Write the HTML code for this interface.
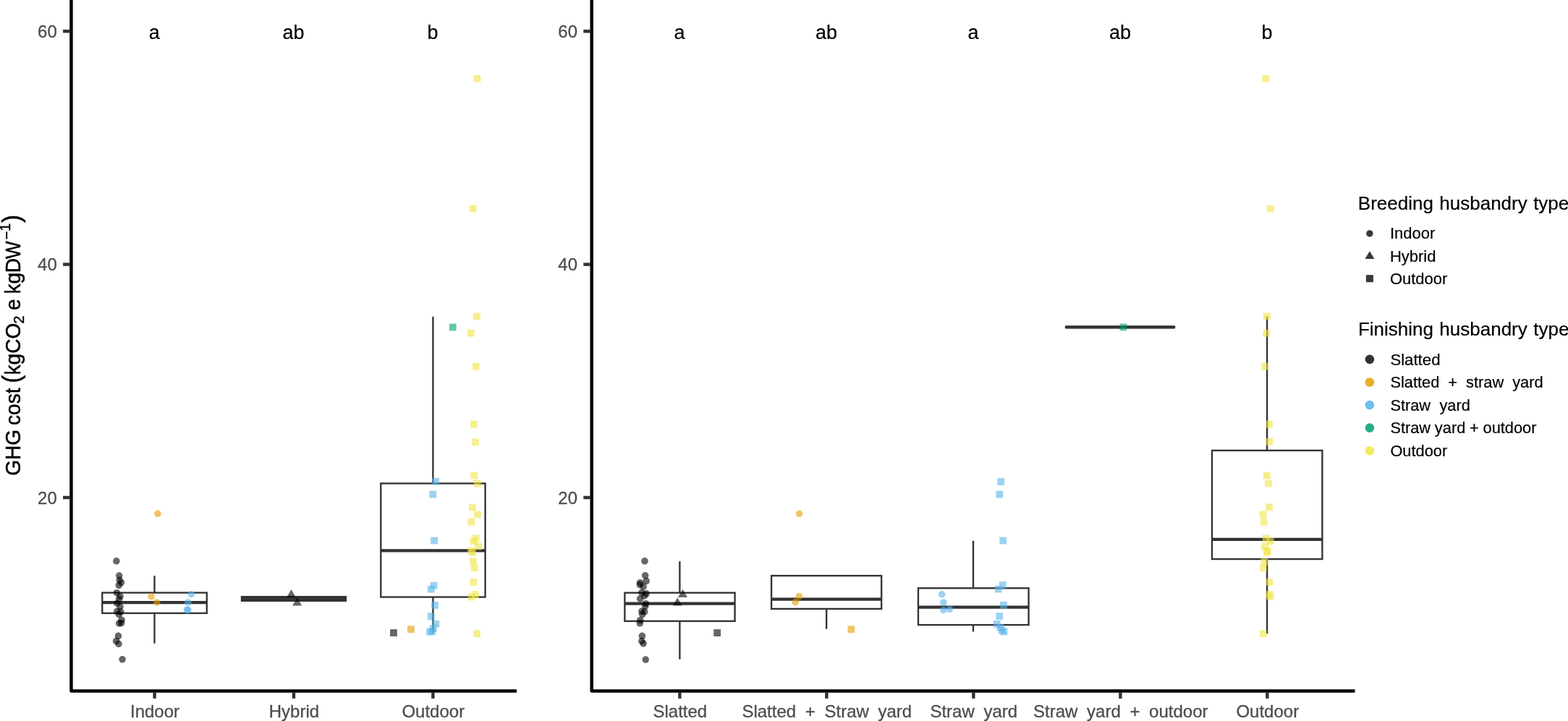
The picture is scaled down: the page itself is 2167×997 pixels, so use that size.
<!DOCTYPE html>
<html lang="en">
<head>
<meta charset="utf-8">
<title>GHG cost by husbandry type</title>
<style>
html,body{margin:0;padding:0;background:#fff;}
body{width:2167px;height:997px;overflow:hidden;}
svg{display:block;}
text{font-family:"Liberation Sans",Arial,Helvetica,sans-serif;white-space:pre;}
</style>
</head>
<body>
<svg width="2167" height="997" viewBox="0 0 2167 997">
<rect x="0" y="0" width="2167" height="997" fill="#ffffff"/>

<g id="left-boxes">
<line x1="213.5" y1="796.1" x2="213.5" y2="819.6" stroke="#333333" stroke-width="2.35"/>
<line x1="213.5" y1="847.9" x2="213.5" y2="889.7" stroke="#333333" stroke-width="2.35"/>
<rect x="141.3" y="819.6" width="144.5" height="28.3" fill="#fff" stroke="#333333" stroke-width="2.35" stroke-linejoin="miter"/>
<line x1="141.3" y1="833.1" x2="285.8" y2="833.1" stroke="#333333" stroke-width="4.3"/>
<rect x="334.0" y="825.2" width="144.0" height="5.6" fill="#fff" stroke="#333333" stroke-width="2.35" stroke-linejoin="miter"/>
<line x1="334.0" y1="828.0" x2="478.0" y2="828.0" stroke="#333333" stroke-width="4.3"/>
<line x1="598.4" y1="437.8" x2="598.4" y2="668.5" stroke="#333333" stroke-width="2.35"/>
<line x1="598.4" y1="825.6" x2="598.4" y2="875.0" stroke="#333333" stroke-width="2.35"/>
<rect x="526.3" y="668.5" width="144.3" height="157.1" fill="#fff" stroke="#333333" stroke-width="2.35" stroke-linejoin="miter"/>
<line x1="526.3" y1="761.3" x2="670.6" y2="761.3" stroke="#333333" stroke-width="4.3"/>
</g>
<g id="right-boxes">
<line x1="939.4" y1="776.2" x2="939.4" y2="819.7" stroke="#333333" stroke-width="2.35"/>
<line x1="939.4" y1="858.9" x2="939.4" y2="911.7" stroke="#333333" stroke-width="2.35"/>
<rect x="863.4" y="819.7" width="152.2" height="39.2" fill="#fff" stroke="#333333" stroke-width="2.35" stroke-linejoin="miter"/>
<line x1="863.4" y1="834.7" x2="1015.6" y2="834.7" stroke="#333333" stroke-width="4.3"/>
<line x1="1142.2" y1="841.9" x2="1142.2" y2="869.8" stroke="#333333" stroke-width="2.35"/>
<rect x="1066.1" y="796.1" width="152.1" height="45.8" fill="#fff" stroke="#333333" stroke-width="2.35" stroke-linejoin="miter"/>
<line x1="1066.1" y1="828.6" x2="1218.2" y2="828.6" stroke="#333333" stroke-width="4.3"/>
<line x1="1345.0" y1="747.8" x2="1345.0" y2="813.3" stroke="#333333" stroke-width="2.35"/>
<line x1="1345.0" y1="864.1" x2="1345.0" y2="873.5" stroke="#333333" stroke-width="2.35"/>
<rect x="1269.0" y="813.3" width="152.6" height="50.8" fill="#fff" stroke="#333333" stroke-width="2.35" stroke-linejoin="miter"/>
<line x1="1269.0" y1="839.7" x2="1421.6" y2="839.7" stroke="#333333" stroke-width="4.3"/>
<rect x="1473.0" y="451.8" width="150.1" height="1.2" fill="#fff" stroke="#333333" stroke-width="2.35" stroke-linejoin="miter"/>
<line x1="1473.0" y1="452.4" x2="1623.1" y2="452.4" stroke="#333333" stroke-width="4.3"/>
<line x1="1751.1" y1="437.8" x2="1751.1" y2="622.9" stroke="#333333" stroke-width="2.35"/>
<line x1="1751.1" y1="773.1" x2="1751.1" y2="876.3" stroke="#333333" stroke-width="2.35"/>
<rect x="1675.0" y="622.9" width="152.4" height="150.2" fill="#fff" stroke="#333333" stroke-width="2.35" stroke-linejoin="miter"/>
<line x1="1675.0" y1="745.9" x2="1827.4" y2="745.9" stroke="#333333" stroke-width="4.3"/>
</g>
<g id="left-points">
<circle cx="160.9" cy="775.9" r="4.8" fill="#000000" fill-opacity="0.6"/>
<circle cx="164.7" cy="796.1" r="4.8" fill="#000000" fill-opacity="0.6"/>
<circle cx="165.2" cy="802.3" r="4.8" fill="#000000" fill-opacity="0.6"/>
<circle cx="167.4" cy="805.7" r="4.8" fill="#000000" fill-opacity="0.6"/>
<circle cx="164.3" cy="809.4" r="4.8" fill="#000000" fill-opacity="0.6"/>
<circle cx="161.3" cy="819.7" r="4.8" fill="#000000" fill-opacity="0.6"/>
<circle cx="166.0" cy="824.5" r="4.8" fill="#000000" fill-opacity="0.6"/>
<circle cx="164.7" cy="828.2" r="4.8" fill="#000000" fill-opacity="0.6"/>
<circle cx="161.8" cy="834.2" r="4.8" fill="#000000" fill-opacity="0.6"/>
<circle cx="166.0" cy="838.8" r="4.8" fill="#000000" fill-opacity="0.6"/>
<circle cx="161.8" cy="845.3" r="4.8" fill="#000000" fill-opacity="0.6"/>
<circle cx="166.9" cy="846.1" r="4.8" fill="#000000" fill-opacity="0.6"/>
<circle cx="164.3" cy="849.5" r="4.8" fill="#000000" fill-opacity="0.6"/>
<circle cx="168.1" cy="857.2" r="4.8" fill="#000000" fill-opacity="0.6"/>
<circle cx="164.7" cy="862.0" r="4.8" fill="#000000" fill-opacity="0.6"/>
<circle cx="167.7" cy="861.5" r="4.8" fill="#000000" fill-opacity="0.6"/>
<circle cx="163.5" cy="879.4" r="4.8" fill="#000000" fill-opacity="0.6"/>
<circle cx="160.6" cy="886.5" r="4.8" fill="#000000" fill-opacity="0.6"/>
<circle cx="164.0" cy="890.4" r="4.8" fill="#000000" fill-opacity="0.6"/>
<circle cx="169.1" cy="911.8" r="4.8" fill="#000000" fill-opacity="0.6"/>
<circle cx="209.0" cy="824.8" r="4.8" fill="#E69F00" fill-opacity="0.6"/>
<circle cx="216.8" cy="833.0" r="4.8" fill="#E69F00" fill-opacity="0.6"/>
<circle cx="218.0" cy="710.3" r="4.8" fill="#E69F00" fill-opacity="0.6"/>
<circle cx="264.4" cy="821.7" r="4.8" fill="#56B4E9" fill-opacity="0.6"/>
<circle cx="259.8" cy="833.0" r="4.8" fill="#56B4E9" fill-opacity="0.6"/>
<circle cx="258.4" cy="843.0" r="4.8" fill="#56B4E9" fill-opacity="0.6"/>
<circle cx="259.9" cy="843.6" r="4.8" fill="#56B4E9" fill-opacity="0.6"/>
<path d="M402.5 815.0 L409.0 826.2 L396.0 826.2 Z" fill="#000000" fill-opacity="0.6"/>
<path d="M410.7 826.2 L417.2 837.4 L404.2 837.4 Z" fill="#000000" fill-opacity="0.6"/>
<rect x="539.1" y="870.2" width="9.8" height="9.8" fill="#000000" fill-opacity="0.6"/>
<rect x="563.0" y="865.3" width="9.8" height="9.8" fill="#E69F00" fill-opacity="0.6"/>
<rect x="595.2" y="742.7" width="9.8" height="9.8" fill="#56B4E9" fill-opacity="0.6"/>
<rect x="594.8" y="804.7" width="9.8" height="9.8" fill="#56B4E9" fill-opacity="0.6"/>
<rect x="590.9" y="809.8" width="9.8" height="9.8" fill="#56B4E9" fill-opacity="0.6"/>
<rect x="596.2" y="832.0" width="9.8" height="9.8" fill="#56B4E9" fill-opacity="0.6"/>
<rect x="590.9" y="847.4" width="9.8" height="9.8" fill="#56B4E9" fill-opacity="0.6"/>
<rect x="597.4" y="857.8" width="9.8" height="9.8" fill="#56B4E9" fill-opacity="0.6"/>
<rect x="593.7" y="864.1" width="9.8" height="9.8" fill="#56B4E9" fill-opacity="0.6"/>
<rect x="589.2" y="868.8" width="9.8" height="9.8" fill="#56B4E9" fill-opacity="0.6"/>
<rect x="592.3" y="868.3" width="9.8" height="9.8" fill="#56B4E9" fill-opacity="0.6"/>
<rect x="597.1" y="660.9" width="9.8" height="9.8" fill="#56B4E9" fill-opacity="0.6"/>
<rect x="593.3" y="678.7" width="9.8" height="9.8" fill="#56B4E9" fill-opacity="0.6"/>
<rect x="620.9" y="447.6" width="9.8" height="9.8" fill="#009E73" fill-opacity="0.6"/>
<rect x="654.6" y="103.7" width="9.8" height="9.8" fill="#F0E442" fill-opacity="0.6"/>
<rect x="648.7" y="283.5" width="9.8" height="9.8" fill="#F0E442" fill-opacity="0.6"/>
<rect x="654.0" y="432.7" width="9.8" height="9.8" fill="#F0E442" fill-opacity="0.6"/>
<rect x="646.0" y="455.7" width="9.8" height="9.8" fill="#F0E442" fill-opacity="0.6"/>
<rect x="652.8" y="501.9" width="9.8" height="9.8" fill="#F0E442" fill-opacity="0.6"/>
<rect x="649.9" y="581.8" width="9.8" height="9.8" fill="#F0E442" fill-opacity="0.6"/>
<rect x="652.0" y="606.4" width="9.8" height="9.8" fill="#F0E442" fill-opacity="0.6"/>
<rect x="650.3" y="652.6" width="9.8" height="9.8" fill="#F0E442" fill-opacity="0.6"/>
<rect x="654.9" y="663.7" width="9.8" height="9.8" fill="#F0E442" fill-opacity="0.6"/>
<rect x="648.0" y="696.7" width="9.8" height="9.8" fill="#F0E442" fill-opacity="0.6"/>
<rect x="655.0" y="706.6" width="9.8" height="9.8" fill="#F0E442" fill-opacity="0.6"/>
<rect x="646.3" y="716.8" width="9.8" height="9.8" fill="#F0E442" fill-opacity="0.6"/>
<rect x="652.8" y="739.6" width="9.8" height="9.8" fill="#F0E442" fill-opacity="0.6"/>
<rect x="649.4" y="743.5" width="9.8" height="9.8" fill="#F0E442" fill-opacity="0.6"/>
<rect x="656.2" y="750.7" width="9.8" height="9.8" fill="#F0E442" fill-opacity="0.6"/>
<rect x="646.0" y="756.6" width="9.8" height="9.8" fill="#F0E442" fill-opacity="0.6"/>
<rect x="648.0" y="759.2" width="9.8" height="9.8" fill="#F0E442" fill-opacity="0.6"/>
<rect x="649.1" y="771.5" width="9.8" height="9.8" fill="#F0E442" fill-opacity="0.6"/>
<rect x="650.8" y="780.5" width="9.8" height="9.8" fill="#F0E442" fill-opacity="0.6"/>
<rect x="649.4" y="800.1" width="9.8" height="9.8" fill="#F0E442" fill-opacity="0.6"/>
<rect x="652.0" y="817.2" width="9.8" height="9.8" fill="#F0E442" fill-opacity="0.6"/>
<rect x="646.8" y="820.6" width="9.8" height="9.8" fill="#F0E442" fill-opacity="0.6"/>
<rect x="654.2" y="871.4" width="9.8" height="9.8" fill="#F0E442" fill-opacity="0.6"/>
</g>
<g id="right-points">
<circle cx="891.0" cy="775.9" r="4.8" fill="#000000" fill-opacity="0.6"/>
<circle cx="891.7" cy="795.8" r="4.8" fill="#000000" fill-opacity="0.6"/>
<circle cx="893.2" cy="803.5" r="4.8" fill="#000000" fill-opacity="0.6"/>
<circle cx="884.7" cy="805.7" r="4.8" fill="#000000" fill-opacity="0.6"/>
<circle cx="884.3" cy="808.6" r="4.8" fill="#000000" fill-opacity="0.6"/>
<circle cx="889.1" cy="811.2" r="4.8" fill="#000000" fill-opacity="0.6"/>
<circle cx="886.9" cy="819.3" r="4.8" fill="#000000" fill-opacity="0.6"/>
<circle cx="893.2" cy="820.9" r="4.8" fill="#000000" fill-opacity="0.6"/>
<circle cx="890.8" cy="823.9" r="4.8" fill="#000000" fill-opacity="0.6"/>
<circle cx="884.7" cy="827.9" r="4.8" fill="#000000" fill-opacity="0.6"/>
<circle cx="892.5" cy="834.7" r="4.8" fill="#000000" fill-opacity="0.6"/>
<circle cx="891.7" cy="838.4" r="4.8" fill="#000000" fill-opacity="0.6"/>
<circle cx="886.9" cy="845.3" r="4.8" fill="#000000" fill-opacity="0.6"/>
<circle cx="890.8" cy="845.8" r="4.8" fill="#000000" fill-opacity="0.6"/>
<circle cx="887.7" cy="849.5" r="4.8" fill="#000000" fill-opacity="0.6"/>
<circle cx="884.8" cy="857.7" r="4.8" fill="#000000" fill-opacity="0.6"/>
<circle cx="884.3" cy="861.8" r="4.8" fill="#000000" fill-opacity="0.6"/>
<circle cx="887.4" cy="879.4" r="4.8" fill="#000000" fill-opacity="0.6"/>
<circle cx="886.9" cy="886.5" r="4.8" fill="#000000" fill-opacity="0.6"/>
<circle cx="889.1" cy="889.9" r="4.8" fill="#000000" fill-opacity="0.6"/>
<circle cx="892.3" cy="912.1" r="4.8" fill="#000000" fill-opacity="0.6"/>
<path d="M943.5 814.7 L950.0 825.9 L937.0 825.9 Z" fill="#000000" fill-opacity="0.6"/>
<path d="M936.2 826.3 L942.7 837.5 L929.7 837.5 Z" fill="#000000" fill-opacity="0.6"/>
<rect x="986.3" y="870.2" width="9.8" height="9.8" fill="#000000" fill-opacity="0.6"/>
<circle cx="1104.6" cy="710.3" r="4.8" fill="#E69F00" fill-opacity="0.6"/>
<circle cx="1104.4" cy="824.7" r="4.8" fill="#E69F00" fill-opacity="0.6"/>
<circle cx="1099.2" cy="832.5" r="4.8" fill="#E69F00" fill-opacity="0.6"/>
<rect x="1171.5" y="865.4" width="9.8" height="9.8" fill="#E69F00" fill-opacity="0.6"/>
<circle cx="1301.6" cy="821.8" r="4.8" fill="#56B4E9" fill-opacity="0.6"/>
<circle cx="1303.8" cy="833.0" r="4.8" fill="#56B4E9" fill-opacity="0.6"/>
<circle cx="1303.8" cy="843.6" r="4.8" fill="#56B4E9" fill-opacity="0.6"/>
<circle cx="1312.5" cy="842.4" r="4.8" fill="#56B4E9" fill-opacity="0.6"/>
<rect x="1381.4" y="742.7" width="9.8" height="9.8" fill="#56B4E9" fill-opacity="0.6"/>
<rect x="1380.9" y="804.1" width="9.8" height="9.8" fill="#56B4E9" fill-opacity="0.6"/>
<rect x="1374.9" y="809.7" width="9.8" height="9.8" fill="#56B4E9" fill-opacity="0.6"/>
<rect x="1382.1" y="831.9" width="9.8" height="9.8" fill="#56B4E9" fill-opacity="0.6"/>
<rect x="1376.4" y="847.2" width="9.8" height="9.8" fill="#56B4E9" fill-opacity="0.6"/>
<rect x="1372.9" y="858.0" width="9.8" height="9.8" fill="#56B4E9" fill-opacity="0.6"/>
<rect x="1377.5" y="863.1" width="9.8" height="9.8" fill="#56B4E9" fill-opacity="0.6"/>
<rect x="1380.0" y="866.8" width="9.8" height="9.8" fill="#56B4E9" fill-opacity="0.6"/>
<rect x="1382.6" y="868.6" width="9.8" height="9.8" fill="#56B4E9" fill-opacity="0.6"/>
<rect x="1378.3" y="661.2" width="9.8" height="9.8" fill="#56B4E9" fill-opacity="0.6"/>
<rect x="1376.4" y="678.7" width="9.8" height="9.8" fill="#56B4E9" fill-opacity="0.6"/>
<rect x="1547.5" y="447.5" width="9.8" height="9.8" fill="#009E73" fill-opacity="0.6"/>
<rect x="1744.4" y="103.8" width="9.8" height="9.8" fill="#F0E442" fill-opacity="0.6"/>
<rect x="1750.8" y="283.6" width="9.8" height="9.8" fill="#F0E442" fill-opacity="0.6"/>
<rect x="1746.0" y="432.7" width="9.8" height="9.8" fill="#F0E442" fill-opacity="0.6"/>
<rect x="1745.4" y="455.7" width="9.8" height="9.8" fill="#F0E442" fill-opacity="0.6"/>
<rect x="1743.1" y="501.9" width="9.8" height="9.8" fill="#F0E442" fill-opacity="0.6"/>
<rect x="1749.1" y="581.8" width="9.8" height="9.8" fill="#F0E442" fill-opacity="0.6"/>
<rect x="1749.4" y="606.0" width="9.8" height="9.8" fill="#F0E442" fill-opacity="0.6"/>
<rect x="1746.0" y="652.6" width="9.8" height="9.8" fill="#F0E442" fill-opacity="0.6"/>
<rect x="1748.1" y="663.7" width="9.8" height="9.8" fill="#F0E442" fill-opacity="0.6"/>
<rect x="1749.1" y="696.4" width="9.8" height="9.8" fill="#F0E442" fill-opacity="0.6"/>
<rect x="1740.6" y="706.6" width="9.8" height="9.8" fill="#F0E442" fill-opacity="0.6"/>
<rect x="1741.8" y="716.8" width="9.8" height="9.8" fill="#F0E442" fill-opacity="0.6"/>
<rect x="1744.8" y="739.6" width="9.8" height="9.8" fill="#F0E442" fill-opacity="0.6"/>
<rect x="1750.8" y="743.5" width="9.8" height="9.8" fill="#F0E442" fill-opacity="0.6"/>
<rect x="1743.1" y="750.7" width="9.8" height="9.8" fill="#F0E442" fill-opacity="0.6"/>
<rect x="1746.9" y="756.6" width="9.8" height="9.8" fill="#F0E442" fill-opacity="0.6"/>
<rect x="1746.0" y="759.2" width="9.8" height="9.8" fill="#F0E442" fill-opacity="0.6"/>
<rect x="1742.6" y="772.0" width="9.8" height="9.8" fill="#F0E442" fill-opacity="0.6"/>
<rect x="1740.9" y="780.5" width="9.8" height="9.8" fill="#F0E442" fill-opacity="0.6"/>
<rect x="1749.4" y="800.1" width="9.8" height="9.8" fill="#F0E442" fill-opacity="0.6"/>
<rect x="1749.1" y="817.2" width="9.8" height="9.8" fill="#F0E442" fill-opacity="0.6"/>
<rect x="1750.8" y="820.1" width="9.8" height="9.8" fill="#F0E442" fill-opacity="0.6"/>
<rect x="1740.9" y="871.4" width="9.8" height="9.8" fill="#F0E442" fill-opacity="0.6"/>
</g>
<g id="axes">
<path d="M98.45 0 L98.45 955.4 L714.0 955.4" fill="none" stroke="#000" stroke-width="4.5" stroke-linejoin="round"/>
<line x1="87.05" y1="43.2" x2="96.45" y2="43.2" stroke="#333333" stroke-width="4.5"/>
<text transform="translate(78.75,51.80) scale(1,1.02)" font-size="24" fill="#4D4D4D" stroke="#4D4D4D" stroke-width="0.3" text-anchor="end" >60</text>
<line x1="87.05" y1="365.6" x2="96.45" y2="365.6" stroke="#333333" stroke-width="4.5"/>
<text transform="translate(78.75,374.20) scale(1,1.02)" font-size="24" fill="#4D4D4D" stroke="#4D4D4D" stroke-width="0.3" text-anchor="end" >40</text>
<line x1="87.05" y1="688.0" x2="96.45" y2="688.0" stroke="#333333" stroke-width="4.5"/>
<text transform="translate(78.75,696.60) scale(1,1.02)" font-size="24" fill="#4D4D4D" stroke="#4D4D4D" stroke-width="0.3" text-anchor="end" >20</text>
<line x1="213.6" y1="957.4" x2="213.6" y2="965.9" stroke="#333333" stroke-width="4.4"/>
<text x="214.00" y="992.10" font-size="24" fill="#4D4D4D" stroke="#4D4D4D" stroke-width="0.3" text-anchor="middle" >Indoor</text>
<line x1="406.0" y1="957.4" x2="406.0" y2="965.9" stroke="#333333" stroke-width="4.4"/>
<text x="406.40" y="992.10" font-size="24" fill="#4D4D4D" stroke="#4D4D4D" stroke-width="0.3" text-anchor="middle" >Hybrid</text>
<line x1="598.4" y1="957.4" x2="598.4" y2="965.9" stroke="#333333" stroke-width="4.4"/>
<text x="598.80" y="992.10" font-size="24" fill="#4D4D4D" stroke="#4D4D4D" stroke-width="0.3" text-anchor="middle" >Outdoor</text>
<path d="M817.75 0 L817.75 955.4 L1872.5 955.4" fill="none" stroke="#000" stroke-width="4.5" stroke-linejoin="round"/>
<line x1="806.35" y1="43.2" x2="815.75" y2="43.2" stroke="#333333" stroke-width="4.5"/>
<text transform="translate(798.05,51.80) scale(1,1.02)" font-size="24" fill="#4D4D4D" stroke="#4D4D4D" stroke-width="0.3" text-anchor="end" >60</text>
<line x1="806.35" y1="365.6" x2="815.75" y2="365.6" stroke="#333333" stroke-width="4.5"/>
<text transform="translate(798.05,374.20) scale(1,1.02)" font-size="24" fill="#4D4D4D" stroke="#4D4D4D" stroke-width="0.3" text-anchor="end" >40</text>
<line x1="806.35" y1="688.0" x2="815.75" y2="688.0" stroke="#333333" stroke-width="4.5"/>
<text transform="translate(798.05,696.60) scale(1,1.02)" font-size="24" fill="#4D4D4D" stroke="#4D4D4D" stroke-width="0.3" text-anchor="end" >20</text>
<line x1="939.4" y1="957.4" x2="939.4" y2="965.9" stroke="#333333" stroke-width="4.4"/>
<text x="939.80" y="992.10" font-size="24" fill="#4D4D4D" stroke="#4D4D4D" stroke-width="0.3" text-anchor="middle" >Slatted</text>
<line x1="1142.4" y1="957.4" x2="1142.4" y2="965.9" stroke="#333333" stroke-width="4.4"/>
<text x="1142.80" y="992.10" font-size="24" fill="#4D4D4D" stroke="#4D4D4D" stroke-width="0.3" text-anchor="middle" word-spacing="6">Slatted + Straw yard</text>
<line x1="1345.4" y1="957.4" x2="1345.4" y2="965.9" stroke="#333333" stroke-width="4.4"/>
<text x="1345.80" y="992.10" font-size="24" fill="#4D4D4D" stroke="#4D4D4D" stroke-width="0.3" text-anchor="middle" word-spacing="6">Straw yard</text>
<line x1="1548.4" y1="957.4" x2="1548.4" y2="965.9" stroke="#333333" stroke-width="4.4"/>
<text x="1548.80" y="992.10" font-size="24" fill="#4D4D4D" stroke="#4D4D4D" stroke-width="0.3" text-anchor="middle" word-spacing="6">Straw yard + outdoor</text>
<line x1="1751.4" y1="957.4" x2="1751.4" y2="965.9" stroke="#333333" stroke-width="4.4"/>
<text x="1751.80" y="992.10" font-size="24" fill="#4D4D4D" stroke="#4D4D4D" stroke-width="0.3" text-anchor="middle" >Outdoor</text>
</g>
<g id="letters">
<text x="213.20" y="53.50" font-size="27" fill="#000" stroke="#000" stroke-width="0.2" text-anchor="middle" >a</text>
<text x="405.60" y="53.50" font-size="27" fill="#000" stroke="#000" stroke-width="0.2" text-anchor="middle" >ab</text>
<text x="598.00" y="53.50" font-size="27" fill="#000" stroke="#000" stroke-width="0.2" text-anchor="middle" >b</text>
<text x="939.00" y="53.50" font-size="27" fill="#000" stroke="#000" stroke-width="0.2" text-anchor="middle" >a</text>
<text x="1142.00" y="53.50" font-size="27" fill="#000" stroke="#000" stroke-width="0.2" text-anchor="middle" >ab</text>
<text x="1345.00" y="53.50" font-size="27" fill="#000" stroke="#000" stroke-width="0.2" text-anchor="middle" >a</text>
<text x="1548.00" y="53.50" font-size="27" fill="#000" stroke="#000" stroke-width="0.2" text-anchor="middle" >ab</text>
<text x="1751.00" y="53.50" font-size="27" fill="#000" stroke="#000" stroke-width="0.2" text-anchor="middle" >b</text>
</g>
<g id="ytitle">
<text transform="translate(28.3,0) rotate(-90) scale(1,1.06)" font-size="28" fill="#000" stroke="#000" stroke-width="0.45" text-anchor="start"><tspan x="-657.7" y="0" font-size="28" letter-spacing="0">GHG </tspan><tspan x="-587.9" y="0" font-size="28" letter-spacing="0">cost </tspan><tspan x="-529.8" y="0.1" font-size="33" letter-spacing="0">(</tspan><tspan x="-518.4" y="0" font-size="28" letter-spacing="0">kgCO</tspan><tspan x="-447.4" y="4.6" font-size="19.6" letter-spacing="0">2</tspan><tspan x="-436.8" y="0" font-size="28" letter-spacing="0"> e </tspan><tspan x="-406.4" y="0" font-size="28" letter-spacing="-0.2">kgD</tspan><tspan x="-358.0" y="0" font-size="28" letter-spacing="0" textLength="24.6" lengthAdjust="spacingAndGlyphs">W</tspan><tspan x="-331.2" y="-11.9" font-size="19.6" letter-spacing="0">−</tspan><tspan x="-319.7" y="-13.6" font-size="19.6" letter-spacing="0">1</tspan><tspan x="-308.1" y="0.1" font-size="33" letter-spacing="0">)</tspan></text>
</g>
<g id="legend">
<text x="1876.80" y="289.90" font-size="26" fill="#000" stroke="#000" stroke-width="0.2" text-anchor="start" word-spacing="1.2">Breeding husbandry type</text>
<circle cx="1892.9" cy="322.9" r="4.7" fill="#383838" fill-opacity="1"/>
<path d="M1892.9 347.2 L1899.5 358.0 L1886.4 358.0 Z" fill="#383838" fill-opacity="1"/>
<rect x="1887.9" y="380.2" width="10.0" height="10.0" fill="#383838" fill-opacity="1"/>
<text x="1920.90" y="329.90" font-size="22" fill="#000" stroke="#000" stroke-width="0.2" text-anchor="start" >Indoor</text>
<text x="1920.90" y="361.50" font-size="22" fill="#000" stroke="#000" stroke-width="0.2" text-anchor="start" >Hybrid</text>
<text x="1920.90" y="393.30" font-size="22" fill="#000" stroke="#000" stroke-width="0.2" text-anchor="start" >Outdoor</text>
<text x="1876.90" y="464.00" font-size="26" fill="#000" stroke="#000" stroke-width="0.2" text-anchor="start" word-spacing="1.2">Finishing husbandry type</text>
<circle cx="1892.9" cy="496.9" r="6.3" fill="#333333" fill-opacity="1"/>
<text x="1921.40" y="504.50" font-size="22.2" fill="#000" stroke="#000" stroke-width="0.2" text-anchor="start" >Slatted</text>
<circle cx="1892.9" cy="528.5" r="6.3" fill="#E69F00" fill-opacity="0.85"/>
<text x="1921.40" y="536.10" font-size="21.8" fill="#000" stroke="#000" stroke-width="0.2" text-anchor="start" word-spacing="6.0">Slatted + straw yard</text>
<circle cx="1892.9" cy="560.1" r="6.3" fill="#56B4E9" fill-opacity="0.85"/>
<text x="1921.40" y="567.70" font-size="21.8" fill="#000" stroke="#000" stroke-width="0.2" text-anchor="start" word-spacing="6.3">Straw yard</text>
<circle cx="1892.9" cy="591.6" r="6.3" fill="#009E73" fill-opacity="0.85"/>
<text x="1921.40" y="599.20" font-size="21.8" fill="#000" stroke="#000" stroke-width="0.2" text-anchor="start" word-spacing="-0.3">Straw yard + outdoor</text>
<circle cx="1892.9" cy="623.2" r="6.3" fill="#F0E442" fill-opacity="0.85"/>
<text x="1921.40" y="630.80" font-size="21.8" fill="#000" stroke="#000" stroke-width="0.2" text-anchor="start" >Outdoor</text>
</g>
</svg>
</body>
</html>
